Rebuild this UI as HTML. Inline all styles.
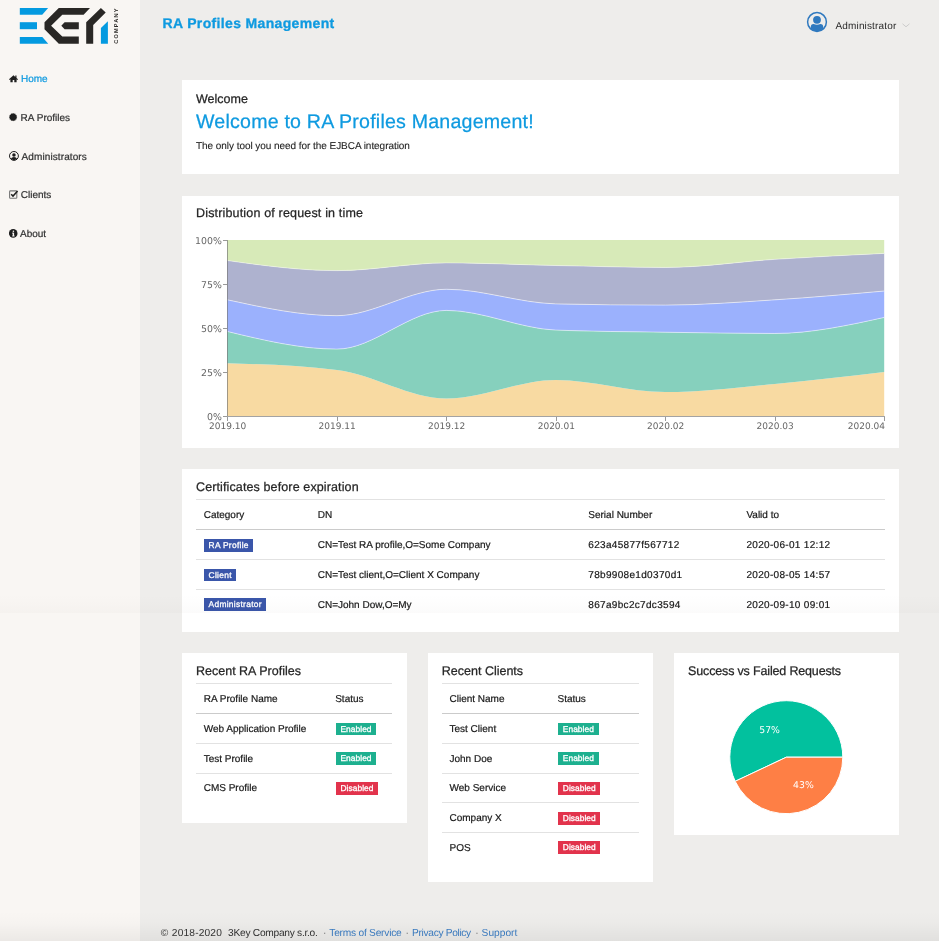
<!DOCTYPE html>
<html><head><meta charset="utf-8">
<style>
*{box-sizing:border-box;margin:0;padding:0}
html,body{width:939px;height:941px;overflow:hidden}
body{background:#eeedeb;font-family:"Liberation Sans",Arial,sans-serif;color:#333;position:relative;text-rendering:geometricPrecision}
.abs{position:absolute;white-space:nowrap;line-height:1}
#side{position:absolute;left:0;top:0;width:140px;height:941px;background:#f9f6f3}
.nav{position:absolute;left:9px;font-size:10px;color:#333;line-height:1}
.nav svg{position:absolute;left:0}
.nav span{position:absolute;white-space:nowrap;-webkit-text-stroke:0.22px currentColor}
.card{position:absolute;background:#fff}
.ct{position:absolute;left:14px;font-size:12.5px;color:#262626;line-height:1;white-space:nowrap;-webkit-text-stroke:0.25px #262626}
.hl{position:absolute;height:1px;background:#e2e2e2}
.hl2{position:absolute;height:1.3px;background:#cbcbcb}
.td{position:absolute;margin-top:0.7px;font-size:10px;color:#181818;line-height:1;white-space:nowrap;-webkit-text-stroke:0.2px #181818}
.bd{position:absolute;height:12.8px;color:#fff;font-size:8.4px;font-weight:normal;-webkit-text-stroke:0.3px #fff;line-height:13.8px;padding:0 4.5px 0 4.9px;white-space:nowrap;letter-spacing:0.3px}
.blue{background:#3a56aa}
.en{background:#1db08f}
.dis{background:#e2334c}
</style></head>
<body>
<div id="wrap" style="position:absolute;left:0;top:0;width:939px;height:941px;background:#eeedeb;will-change:transform">
<div id="side">
  <svg class="abs" style="left:0;top:0" width="140" height="50" viewBox="0 0 140 50">
    <g fill="#049ae0">
      <polygon points="19.8,8 48.1,8 42.2,14.8 19.8,14.8"/>
      <rect x="19.8" y="22.2" width="17.2" height="7"/>
      <polygon points="19.8,36.9 42.3,36.9 48.2,43.8 19.8,43.8"/>
      <polygon points="100.9,27.9 107.9,21.2 107.9,43.8 100.9,43.8"/>
    </g>
    <g fill="#292725">
      <polygon points="58.8,8.1 90,8.1 83.6,14.8 62.3,14.8 51.1,25.7 62.3,36.5 78.8,36.5 78.8,43.8 58.8,43.8 44.5,29.2 44.5,22.2"/>
      <polygon points="61.3,25.7 64.6,22.2 78.8,22.2 78.8,29.2 64.6,29.2"/>
      <polygon points="86.2,22.2 100.9,8.1 105.7,12.6 93.2,25 93.2,43.8 86.2,43.8"/>
    </g>
    <text transform="translate(118.2,43.8) rotate(-90)" font-family="Liberation Sans" font-weight="bold" font-size="5.6" letter-spacing="1.2" fill="#292725">COMPANY</text>
  </svg>
  <div class="nav" style="top:75px">
    <svg width="10" height="8" viewBox="0 0 10 8" style="top:0"><path d="M4.5 0.3 L0 4.2 L0.6 4.9 L1.4 4.3 L1.4 7.3 L3.7 7.3 L3.7 5.1 L5.3 5.1 L5.3 7.3 L7.6 7.3 L7.6 4.3 L8.4 4.9 L9 4.2 L7.5 2.9 L7.5 0.4 L6.3 0.4 L6.3 1.9 Z" fill="#1e1e1e"/></svg>
    <span style="left:12px;color:#0e9ae0;top:0">Home</span>
  </div>
  <div class="nav" style="top:114px">
    <svg width="10" height="10" viewBox="0 0 10 10" style="top:-1px"><polygon points="4.10,-0.05 4.99,0.77 6.17,0.51 6.54,1.66 7.69,2.02 7.43,3.21 8.25,4.10 7.43,4.99 7.69,6.17 6.54,6.54 6.17,7.69 4.99,7.43 4.10,8.25 3.21,7.43 2.03,7.69 1.66,6.54 0.51,6.18 0.77,4.99 -0.05,4.10 0.77,3.21 0.51,2.02 1.66,1.66 2.02,0.51 3.21,0.77" fill="#1e1e1e"/></svg>
    <span style="left:11.6px;top:0">RA Profiles</span>
  </div>
  <div class="nav" style="top:152.6px">
    <svg width="11" height="11" viewBox="0 0 11 11" style="top:-1.6px"><circle cx="4.95" cy="4.95" r="4.45" fill="none" stroke="#1e1e1e" stroke-width="1"/><circle cx="4.95" cy="3.9" r="1.75" fill="#1e1e1e"/><path d="M1.9 7.7 Q2.6 5.9 4.95 5.9 Q7.3 5.9 8 7.7 Q4.95 10.6 1.9 7.7Z" fill="#1e1e1e"/></svg>
    <span style="left:12.6px;top:0;letter-spacing:0.1px">Administrators</span>
  </div>
  <div class="nav" style="top:190.8px">
    <svg width="10" height="10" viewBox="0 0 10 10" style="top:-0.7px"><rect x="0.6" y="0.9" width="7.2" height="7.3" rx="0.8" fill="none" stroke="#777" stroke-width="1.1"/><path d="M2.2 4.2 L4 6.1 L8.6 1.1" fill="none" stroke="#1e1e1e" stroke-width="1.5"/></svg>
    <span style="left:11.8px;top:0">Clients</span>
  </div>
  <div class="nav" style="top:229.7px">
    <svg width="10" height="10" viewBox="0 0 10 10" style="top:-0.6px"><circle cx="4.2" cy="4.4" r="4.3" fill="#1e1e1e"/><rect x="3.7" y="3.7" width="1.4" height="3.5" fill="#f9f6f3"/><rect x="3.1" y="3.7" width="1.3" height="0.8" fill="#f9f6f3"/><rect x="3.1" y="6.6" width="2.6" height="0.8" fill="#f9f6f3"/><circle cx="4.4" cy="2.3" r="0.8" fill="#f9f6f3"/></svg>
    <span style="left:11px;top:0">About</span>
  </div>
</div>

<!-- header -->
<div class="abs" style="left:162.5px;top:16.4px;font-size:14px;font-weight:bold;color:#0e9ae0;letter-spacing:0.35px;-webkit-text-stroke:0.3px #0e9ae0">RA Profiles Management</div>
<svg class="abs" style="left:806px;top:11px" width="22" height="22" viewBox="0 0 22 22"><defs><clipPath id="uc"><circle cx="11" cy="11" r="9.3"/></clipPath></defs><circle cx="11" cy="11" r="9.4" fill="none" stroke="#2f79bf" stroke-width="1.5"/><circle cx="11" cy="8.8" r="3.9" fill="#2f79bf"/><g clip-path="url(#uc)"><path d="M4.8 22 L4.8 16 Q4.8 13.3 7.6 13.1 Q11 14.6 14.4 13.1 Q17.2 13.3 17.2 16 L17.2 22 Z" fill="#2f79bf"/></g></svg>
<div class="abs" style="left:835.5px;top:22.1px;font-size:10px;color:#2a2a2a;letter-spacing:0.15px">Administrator</div>
<svg class="abs" style="left:902px;top:23px" width="8" height="5" viewBox="0 0 8 5"><path d="M0.5 0.8 L4 3.8 L7.5 0.8" fill="none" stroke="#c8c8c8" stroke-width="0.9"/></svg>

<!-- card 1 welcome -->
<div class="card" style="left:182px;top:80.3px;width:716.5px;height:93.7px">
  <div class="ct" style="top:12.4px">Welcome</div>
  <div class="ct" style="top:32.4px;font-size:19.6px;color:#0e9ae0;letter-spacing:0.21px;-webkit-text-stroke:0.25px #0e9ae0">Welcome to RA Profiles Management!</div>
  <div class="ct" style="top:61.8px;font-size:10px;color:#1e1e1e;letter-spacing:-0.05px;-webkit-text-stroke:0.1px #1e1e1e">The only tool you need for the EJBCA integration</div>
</div>

<!-- card 2 chart -->
<div class="card" style="left:182px;top:195.6px;width:716.5px;height:252.4px">
  <div class="ct" style="top:11.9px;letter-spacing:0.17px">Distribution of request in time</div>
</div>
<svg class="abs" style="left:0;top:0" width="939" height="941" viewBox="0 0 939 941">
<path d="M227.5,363.2C263.98,364.31,300.47,365.43,336.95,369.89C373.43,374.35,409.92,398.4,446.4,398.4C482.88,398.4,519.37,379.92,555.85,379.92C592.33,379.92,628.82,392.06,665.3,392.06C701.78,392.06,738.27,387.31,774.75,383.97C811.23,380.62,847.72,376.31,884.2,372L884.2,416C847.72,416,811.23,416,774.75,416C738.27,416,701.78,416,665.3,416C628.82,416,592.33,416,555.85,416C519.37,416,482.88,416,446.4,416C409.92,416,373.43,416,336.95,416C300.47,416,263.98,416,227.5,416Z" fill="#f8daa2"/>
<path d="M227.5,331.52C263.98,340.32,300.47,349.12,336.95,349.12C373.43,349.12,409.92,310.4,446.4,310.4C482.88,310.4,519.37,328.7,555.85,330.11C592.33,331.52,628.82,331.67,665.3,332.22C701.78,332.78,738.27,333.46,774.75,333.46C811.23,333.46,847.72,325.45,884.2,317.44L884.2,372C847.72,376.31,811.23,380.62,774.75,383.97C738.27,387.31,701.78,392.06,665.3,392.06C628.82,392.06,592.33,379.92,555.85,379.92C519.37,379.92,482.88,398.4,446.4,398.4C409.92,398.4,373.43,374.35,336.95,369.89C300.47,365.43,263.98,364.31,227.5,363.2Z" fill="#86d0bd"/>
<path d="M227.5,299.84C263.98,307.76,300.47,315.68,336.95,315.68C373.43,315.68,409.92,289.28,446.4,289.28C482.88,289.28,519.37,303.07,555.85,303.89C592.33,304.71,628.82,305.12,665.3,305.12C701.78,305.12,738.27,302.19,774.75,299.84C811.23,297.49,847.72,294.27,884.2,291.04L884.2,317.44C847.72,325.45,811.23,333.46,774.75,333.46C738.27,333.46,701.78,332.78,665.3,332.22C628.82,331.67,592.33,331.52,555.85,330.11C519.37,328.7,482.88,310.4,446.4,310.4C409.92,310.4,373.43,349.12,336.95,349.12C300.47,349.12,263.98,340.32,227.5,331.52Z" fill="#9bb1fd"/>
<path d="M227.5,260.59C263.98,265.61,300.47,270.62,336.95,270.62C373.43,270.62,409.92,262.88,446.4,262.88C482.88,262.88,519.37,264.76,555.85,265.52C592.33,266.28,628.82,267.46,665.3,267.46C701.78,267.46,738.27,261.71,774.75,259.36C811.23,257.01,847.72,255.19,884.2,253.38L884.2,291.04C847.72,294.27,811.23,297.49,774.75,299.84C738.27,302.19,701.78,305.12,665.3,305.12C628.82,305.12,592.33,304.71,555.85,303.89C519.37,303.07,482.88,289.28,446.4,289.28C409.92,289.28,373.43,315.68,336.95,315.68C300.47,315.68,263.98,307.76,227.5,299.84Z" fill="#aeb2cf"/>
<path d="M227.5,240C263.98,240,300.47,240,336.95,240C373.43,240,409.92,240,446.4,240C482.88,240,519.37,240,555.85,240C592.33,240,628.82,240,665.3,240C701.78,240,738.27,240,774.75,240C811.23,240,847.72,240,884.2,240L884.2,253.38C847.72,255.19,811.23,257.01,774.75,259.36C738.27,261.71,701.78,267.46,665.3,267.46C628.82,267.46,592.33,266.28,555.85,265.52C519.37,264.76,482.88,262.88,446.4,262.88C409.92,262.88,373.43,270.62,336.95,270.62C300.47,270.62,263.98,265.61,227.5,260.59Z" fill="#d7eab8"/>
<path d="M227.5,331.52C263.98,340.32,300.47,349.12,336.95,349.12C373.43,349.12,409.92,310.4,446.4,310.4C482.88,310.4,519.37,328.7,555.85,330.11C592.33,331.52,628.82,331.67,665.3,332.22C701.78,332.78,738.27,333.46,774.75,333.46C811.23,333.46,847.72,325.45,884.2,317.44" fill="none" stroke="#fff" stroke-opacity="0.55" stroke-width="0.9"/>
<path d="M227.5,299.84C263.98,307.76,300.47,315.68,336.95,315.68C373.43,315.68,409.92,289.28,446.4,289.28C482.88,289.28,519.37,303.07,555.85,303.89C592.33,304.71,628.82,305.12,665.3,305.12C701.78,305.12,738.27,302.19,774.75,299.84C811.23,297.49,847.72,294.27,884.2,291.04" fill="none" stroke="#fff" stroke-opacity="0.6" stroke-width="0.9"/>
<path d="M227.5,260.59C263.98,265.61,300.47,270.62,336.95,270.62C373.43,270.62,409.92,262.88,446.4,262.88C482.88,262.88,519.37,264.76,555.85,265.52C592.33,266.28,628.82,267.46,665.3,267.46C701.78,267.46,738.27,261.71,774.75,259.36C811.23,257.01,847.72,255.19,884.2,253.38" fill="none" stroke="#fff" stroke-opacity="0.45" stroke-width="0.9"/>

<g stroke="#000" stroke-opacity="0.36" stroke-width="1" fill="none" shape-rendering="crispEdges">
<line x1="227.5" y1="240" x2="227.5" y2="416"/>
<line x1="227" y1="416.5" x2="885" y2="416.5"/>
</g>
<g stroke="#777" stroke-opacity="0.75" stroke-width="1" fill="none" shape-rendering="crispEdges">
<line x1="223" y1="240.5" x2="227" y2="240.5"/>
<line x1="223" y1="284.5" x2="227" y2="284.5"/>
<line x1="223" y1="328.5" x2="227" y2="328.5"/>
<line x1="223" y1="372.5" x2="227" y2="372.5"/>
<line x1="223" y1="416.5" x2="227" y2="416.5"/>
<line x1="227.5" y1="417" x2="227.5" y2="421"/>
<line x1="337.5" y1="417" x2="337.5" y2="421"/>
<line x1="446.5" y1="417" x2="446.5" y2="421"/>
<line x1="556.5" y1="417" x2="556.5" y2="421"/>
<line x1="665.5" y1="417" x2="665.5" y2="421"/>
<line x1="775.5" y1="417" x2="775.5" y2="421"/>
<line x1="884.5" y1="417" x2="884.5" y2="421"/>
</g>
<g font-family="DejaVu Sans" font-size="9.4" fill="#666" text-anchor="end">
<text x="221.8" y="243.8">100%</text>
<text x="221.8" y="287.8">75%</text>
<text x="221.8" y="331.8">50%</text>
<text x="221.8" y="375.8">25%</text>
<text x="221.8" y="419.8">0%</text>
</g>
<g font-family="DejaVu Sans" font-size="9" fill="#666" text-anchor="middle">
<text x="227.6" y="429">2019.10</text>
<text x="337.2" y="429">2019.11</text>
<text x="446.6" y="429">2019.12</text>
<text x="556.3" y="429">2020.01</text>
<text x="665.6" y="429">2020.02</text>
<text x="775.2" y="429">2020.03</text>
<text x="885" y="429" text-anchor="end">2020.04</text>
</g>
</svg>

<!-- card 3 certificates -->
<div class="card" style="left:182px;top:469px;width:716.5px;height:162.5px">
  <div class="ct" style="top:11.8px;letter-spacing:0.12px">Certificates before expiration</div>
  <div class="hl" style="left:14.4px;width:688.6px;top:30px"></div>
  <div class="td" style="left:21.7px;top:41.5px">Category</div>
  <div class="td" style="left:135.7px;top:41.5px">DN</div>
  <div class="td" style="left:406.3px;top:41.5px">Serial Number</div>
  <div class="td" style="left:564.4px;top:41.5px">Valid to</div>
  <div class="hl2" style="left:14.4px;width:688.6px;top:60px"></div>
  <div class="bd blue" style="left:21.7px;top:69.9px">RA Profile</div>
  <div class="td" style="left:135.7px;top:71.5px">CN=Test RA profile,O=Some Company</div>
  <div class="td" style="left:406.3px;top:71.5px;letter-spacing:0.32px">623a45877f567712</div>
  <div class="td" style="left:564.4px;top:71.5px;letter-spacing:0.32px">2020-06-01 12:12</div>
  <div class="hl" style="left:14.4px;width:688.6px;top:90.4px"></div>
  <div class="bd blue" style="left:21.7px;top:99.6px">Client</div>
  <div class="td" style="left:135.7px;top:101px">CN=Test client,O=Client X Company</div>
  <div class="td" style="left:406.3px;top:101px;letter-spacing:0.32px">78b9908e1d0370d1</div>
  <div class="td" style="left:564.4px;top:101px;letter-spacing:0.32px">2020-08-05 14:57</div>
  <div class="hl" style="left:14.4px;width:688.6px;top:120.2px"></div>
  <div class="bd blue" style="left:21.7px;top:129.4px">Administrator</div>
  <div class="td" style="left:135.7px;top:130.9px">CN=John Dow,O=My</div>
  <div class="td" style="left:406.3px;top:130.9px;letter-spacing:0.32px">867a9bc2c7dc3594</div>
  <div class="td" style="left:564.4px;top:130.9px;letter-spacing:0.32px">2020-09-10 09:01</div>
</div>

<!-- card 4 RA profiles -->
<div class="card" style="left:182px;top:652.8px;width:224.7px;height:170.2px">
  <div class="ct" style="top:12.4px">Recent RA Profiles</div>
  <div class="hl" style="left:14.4px;width:196px;top:30px"></div>
  <div class="td" style="left:21.7px;top:41.5px">RA Profile Name</div>
  <div class="td" style="left:153.2px;top:41.5px">Status</div>
  <div class="hl2" style="left:14.4px;width:196px;top:60.2px"></div>
  <div class="td" style="left:21.7px;top:71.5px">Web Application Profile</div>
  <div class="bd en" style="letter-spacing:0.05px;padding-right:4.7px;left:153.6px;top:69.9px">Enabled</div>
  <div class="hl" style="left:14.4px;width:196px;top:90.6px"></div>
  <div class="td" style="left:21.7px;top:101.3px">Test Profile</div>
  <div class="bd en" style="letter-spacing:0.05px;padding-right:4.7px;left:153.6px;top:99.7px">Enabled</div>
  <div class="hl" style="left:14.4px;width:196px;top:120.4px"></div>
  <div class="td" style="left:21.7px;top:131px">CMS Profile</div>
  <div class="bd dis" style="letter-spacing:0.05px;padding-right:4.7px;left:153.6px;top:129.4px">Disabled</div>
</div>

<!-- card 5 clients -->
<div class="card" style="left:427.8px;top:652.8px;width:224.9px;height:229.1px">
  <div class="ct" style="top:12.4px">Recent Clients</div>
  <div class="hl" style="left:14.6px;width:196.2px;top:30px"></div>
  <div class="td" style="left:21.7px;top:41.5px">Client Name</div>
  <div class="td" style="left:129.7px;top:41.5px">Status</div>
  <div class="hl2" style="left:14.6px;width:196.2px;top:60.2px"></div>
  <div class="td" style="left:21.7px;top:71.5px">Test Client</div>
  <div class="bd en" style="letter-spacing:0.05px;padding-right:4.7px;left:130.1px;top:69.9px">Enabled</div>
  <div class="hl" style="left:14.6px;width:196.2px;top:90.6px"></div>
  <div class="td" style="left:21.7px;top:101.3px">John Doe</div>
  <div class="bd en" style="letter-spacing:0.05px;padding-right:4.7px;left:130.1px;top:99.7px">Enabled</div>
  <div class="hl" style="left:14.6px;width:196.2px;top:120.4px"></div>
  <div class="td" style="left:21.7px;top:131px">Web Service</div>
  <div class="bd dis" style="letter-spacing:0.05px;padding-right:4.7px;left:130.1px;top:129.4px">Disabled</div>
  <div class="hl" style="left:14.6px;width:196.2px;top:149.6px"></div>
  <div class="td" style="left:21.7px;top:160.6px">Company X</div>
  <div class="bd dis" style="letter-spacing:0.05px;padding-right:4.7px;left:130.1px;top:159px">Disabled</div>
  <div class="hl" style="left:14.6px;width:196.2px;top:179.3px"></div>
  <div class="td" style="left:21.7px;top:190.2px">POS</div>
  <div class="bd dis" style="letter-spacing:0.05px;padding-right:4.7px;left:130.1px;top:188.6px">Disabled</div>
</div>

<!-- card 6 pie -->
<div class="card" style="left:674.1px;top:652.8px;width:224.7px;height:181.9px">
  <div class="ct" style="top:12.4px;letter-spacing:-0.16px">Success vs Failed Requests</div>
</div>
<svg class="abs" style="left:0;top:0" width="939" height="941" viewBox="0 0 939 941">
  <path d="M786.3,757.2 L842.8,757.2 A56.5,56.5 0 1,0 735.2,781.3 Z" fill="#02c19e" stroke="#fff" stroke-width="1"/>
  <path d="M786.3,757.2 L735.2,781.3 A56.5,56.5 0 0,0 842.8,757.2 Z" fill="#fe7f45" stroke="#fff" stroke-width="1"/>
  <g font-family="DejaVu Sans" font-size="9.3" fill="#fff" text-anchor="middle">
    <text x="769.6" y="733.2">57%</text>
    <text x="803.4" y="787.9">43%</text>
  </g>
</svg>

<!-- footer -->
<div class="abs" style="left:0;top:928.8px;font-size:10.2px;color:#333;width:939px;height:12px">
<span class="abs" style="left:160.7px">©</span>
<span class="abs" style="left:171.8px;letter-spacing:0.17px">2018-2020</span>
<span class="abs" style="left:228.1px;letter-spacing:-0.27px">3Key Company s.r.o.</span>
<span class="abs" style="left:322.9px;color:#666">·</span>
<span class="abs" style="left:329.3px;letter-spacing:-0.23px;color:#3b7dc4">Terms of Service</span>
<span class="abs" style="left:405.4px;color:#666">·</span>
<span class="abs" style="left:412.1px;letter-spacing:-0.33px;color:#3b7dc4">Privacy Policy</span>
<span class="abs" style="left:475.2px;color:#666">·</span>
<span class="abs" style="left:481.6px;color:#3b7dc4">Support</span>
</div>
<div class="abs" style="left:0;top:594px;width:939px;height:19px;background:linear-gradient(to bottom,rgba(60,40,30,0),rgba(60,40,30,0.006) 50%,rgba(60,40,30,0.018))"></div>
<div class="abs" style="left:0;top:911px;width:939px;height:30px;background:linear-gradient(to bottom,rgba(0,0,0,0),rgba(0,0,0,0.012) 40%,rgba(0,0,0,0.055))"></div>
</div>
</body></html>
